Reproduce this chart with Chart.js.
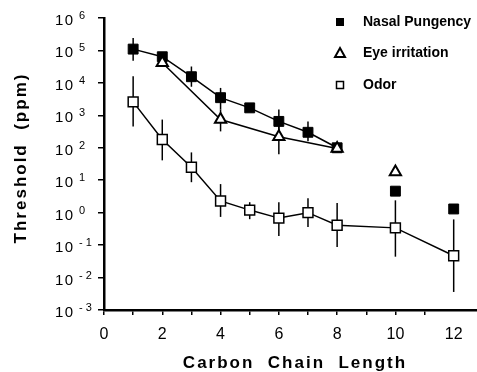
<!DOCTYPE html>
<html>
<head>
<meta charset="utf-8">
<script src="https://cdn.jsdelivr.net/npm/chart.js@4"></script>
<style>
  html, body { margin: 0; padding: 0; background: #fff; }
  #wrap { width: 477px; height: 372px; }
</style>
</head>
<body>
<div id="wrap"><canvas id="myChart" width="477" height="372"></canvas></div>
<script>
// thresholds (ppm) by carbon chain length
const nasalCarbon = [1, 2, 3, 4, 5, 6, 7, 8];
const nasalPpm = [110000, 64000, 15500, 3500, 1700, 650, 300, 100];
const nasalLow = [48000, null, 7600, 1500, null, 300, 160, null];
const nasalHigh = [240000, null, 32000, 7000, null, 1500, 650, null];
const nasalExtraCarbon = [10, 12];
const nasalExtraPpm = [4.6, 1.3];

const eyeCarbon = [2, 4, 6, 8];
const eyePpm = [42000, 740, 220, 95];
const eyeLow = [null, 320, 63, null];
const eyeHigh = [null, 1500, 800, null];
const eyeExtraCarbon = [10];
const eyeExtraPpm = [18];

const odorCarbon = [1, 2, 3, 4, 5, 6, 7, 8, 10, 12];
const odorPpm = [2600, 180, 25, 2.3, 1.2, 0.68, 1.0, 0.41, 0.34, 0.047];
const odorLow = [450, 41, 8.7, 0.74, 0.63, 0.19, 0.36, 0.087, 0.044, 0.0036];
const odorHigh = [16000, 740, 72, 7.6, 2.1, 2.1, 2.8, 2.0, 2.4, 0.62];

const xTickLabels = ['0', '2', '4', '6', '8', '10', '12'];
const legendNames = ['Nasal Pungency', 'Eye irritation', 'Odor'];

const pts = (xs, ys) => xs.map((x, i) => ({x: x, y: ys[i]}));

const errorBars = [
  {xs: nasalCarbon, lo: nasalLow, hi: nasalHigh},
  {xs: eyeCarbon, lo: eyeLow, hi: eyeHigh},
  {xs: odorCarbon, lo: odorLow, hi: odorHigh}
];

// vertical error bars, under the markers
const errorBarPlugin = {
  id: 'errorBars',
  beforeDatasetsDraw(chart) {
    const ctx = chart.ctx;
    const xs = chart.scales.x, ys = chart.scales.y;
    ctx.save();
    ctx.strokeStyle = '#000';
    ctx.lineWidth = 1.5;
    errorBars.forEach(set => {
      set.xs.forEach((c, i) => {
        if (set.lo[i] == null) return;
        const px = xs.getPixelForValue(c);
        ctx.beginPath();
        ctx.moveTo(px, ys.getPixelForValue(set.hi[i]));
        ctx.lineTo(px, ys.getPixelForValue(set.lo[i]));
        ctx.stroke();
      });
    });
    ctx.restore();
  }
};

// tick labels with exponents, axis titles and legend
const textPlugin = {
  id: 'texts',
  afterDraw(chart) {
    const ctx = chart.ctx;
    const xs = chart.scales.x, ys = chart.scales.y;
    ctx.save();
    ctx.fillStyle = '#000';

    ys.ticks.forEach(t => {
      const p = Math.round(Math.log10(t.value));
      const py = ys.getPixelForValue(t.value);
      ctx.textAlign = 'left';
      ctx.textBaseline = 'alphabetic';
      ctx.font = '15px "Liberation Sans", Arial, sans-serif';
      ctx.letterSpacing = '1.5px';
      ctx.fillText('10', 55, py + 7);
      ctx.font = '11px "Liberation Sans", Arial, sans-serif';
      ctx.letterSpacing = '0px';
      ctx.fillText(p < 0 ? '- ' + (-p) : String(p), 79, py + 1);
    });

    ctx.font = '16px "Liberation Sans", Arial, sans-serif';
    ctx.textAlign = 'center';
    xTickLabels.forEach(lbl => {
      ctx.fillText(lbl, xs.getPixelForValue(Number(lbl)), 339);
    });

    ctx.font = 'bold 17px "Liberation Sans", Arial, sans-serif';
    ctx.letterSpacing = '2px';
    ctx.fillText('Carbon  Chain  Length', 295, 368);

    ctx.save();
    ctx.translate(26, 158);
    ctx.rotate(-Math.PI / 2);
    ctx.fillText('Threshold  (ppm)', 0, 0);
    ctx.restore();

    // legend
    ctx.letterSpacing = '0px';
    ctx.textAlign = 'left';
    ctx.font = 'bold 14px "Liberation Sans", Arial, sans-serif';
    const rows = [22, 53, 85];
    ctx.lineWidth = 2;
    ctx.strokeStyle = '#000';
    ctx.fillRect(336, rows[0] - 4, 8, 8);
    ctx.beginPath();
    ctx.moveTo(340, rows[1] - 5);
    ctx.lineTo(345, rows[1] + 4);
    ctx.lineTo(335, rows[1] + 4);
    ctx.closePath();
    ctx.stroke();
    ctx.lineWidth = 1.5;
    ctx.strokeRect(336.5, rows[2] - 3.5, 7, 7);
    legendNames.forEach((name, i) => ctx.fillText(name, 363, rows[i] + 4));
    ctx.restore();
  }
};

const ctx = document.getElementById('myChart').getContext('2d');

const myChart = new Chart(ctx, {
  type: 'line',
  data: {
    datasets: [
      {
        label: legendNames[1],
        data: pts(eyeCarbon, eyePpm),
        borderColor: '#000',
        borderWidth: 1.5,
        pointStyle: 'triangle',
        pointRadius: 6.5,
        pointBorderWidth: 2,
        pointBackgroundColor: '#fff',
        pointBorderColor: '#000',
        order: 0
      },
      {
        label: legendNames[1],
        data: pts(eyeExtraCarbon, eyeExtraPpm),
        showLine: false,
        pointStyle: 'triangle',
        pointRadius: 6.5,
        pointBorderWidth: 2,
        pointBackgroundColor: '#fff',
        pointBorderColor: '#000',
        order: 0
      },
      {
        label: legendNames[0],
        data: pts(nasalCarbon, nasalPpm),
        borderColor: '#000',
        borderWidth: 1.5,
        pointStyle: 'rect',
        pointRadius: 7,
        pointBorderWidth: 1,
        pointBackgroundColor: '#000',
        pointBorderColor: '#000',
        order: 1
      },
      {
        label: legendNames[0],
        data: pts(nasalExtraCarbon, nasalExtraPpm),
        showLine: false,
        pointStyle: 'rect',
        pointRadius: 7,
        pointBorderWidth: 1,
        pointBackgroundColor: '#000',
        pointBorderColor: '#000',
        order: 1
      },
      {
        label: legendNames[2],
        data: pts(odorCarbon, odorPpm),
        borderColor: '#000',
        borderWidth: 1.5,
        pointStyle: 'rect',
        pointRadius: 7,
        pointBorderWidth: 1.5,
        pointBackgroundColor: '#fff',
        pointBorderColor: '#000',
        order: 2
      }
    ]
  },
  options: {
    responsive: false,
    animation: false,
    events: [],
    layout: { autoPadding: false, padding: { top: 18, left: 0, right: 0, bottom: 0 } },
    elements: { line: { tension: 0 } },
    plugins: { legend: { display: false }, tooltip: { enabled: false } },
    scales: {
      x: {
        type: 'linear',
        min: 0,
        max: 12.8,
        ticks: { stepSize: 1, display: false },
        afterBuildTicks: s => { s.ticks = s.ticks.filter(t => Number.isInteger(t.value)); },
        afterFit: s => { s.height = 62; },
        grid: { drawOnChartArea: false, drawTicks: true, tickLength: 5, color: '#000', lineWidth: 1.5 },
        border: { color: '#000', width: 2.5 }
      },
      y: {
        type: 'logarithmic',
        min: 0.001,
        max: 1000000,
        ticks: { display: false },
        afterBuildTicks: s => {
          s.ticks = s.ticks.filter(t => Math.abs(Math.log10(t.value) - Math.round(Math.log10(t.value))) < 1e-6);
        },
        afterFit: s => { s.width = 104; },
        grid: { drawOnChartArea: false, drawTicks: true, tickLength: 6, color: '#000', lineWidth: 1.5 },
        border: { color: '#000', width: 2.5 }
      }
    }
  },
  plugins: [errorBarPlugin, textPlugin]
});
</script>
</body>
</html>
